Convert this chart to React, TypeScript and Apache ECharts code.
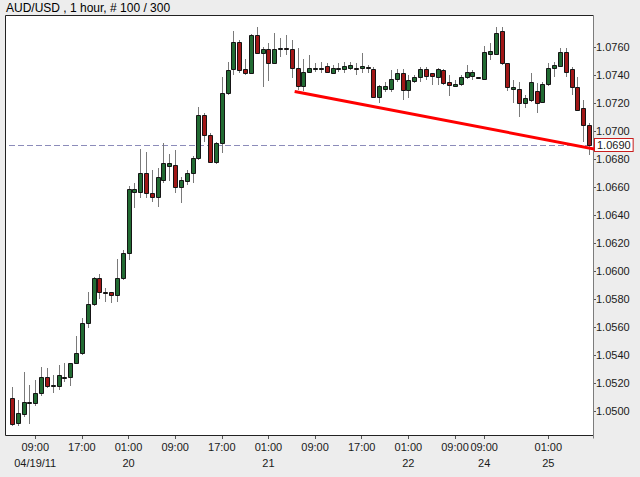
import React, { useEffect, useRef } from "react";
import * as echarts from "echarts";

// ---- data (AUD/USD, 1 hour bars) ----
const openP = [
  1.05095, 1.04912, 1.04979, 1.05061, 1.05059, 1.05131, 1.05245, 1.05179, 1.05179, 1.05238,
  1.05245, 1.05345, 1.05416, 1.05626, 1.05764, 1.05948, 1.05852, 1.05852, 1.05829, 1.05948,
  1.06126, 1.06567, 1.06567, 1.06698, 1.06555, 1.06526, 1.0665, 1.06752, 1.06757, 1.06602,
  1.06645, 1.06702, 1.06805, 1.07114, 1.06971, 1.06781, 1.06917, 1.07274, 1.07441, 1.07638,
  1.07441, 1.07416, 1.07686, 1.07559, 1.07584, 1.07488, 1.07591, 1.07595, 1.07584, 1.07448,
  1.07321, 1.07424, 1.07443, 1.07441, 1.07464, 1.07416, 1.07441, 1.07441, 1.07448, 1.07452,
  1.07448, 1.07459, 1.07441, 1.07245, 1.07298, 1.07298, 1.07369, 1.07416, 1.07293, 1.07359,
  1.07384, 1.07441, 1.07416, 1.07388, 1.07436, 1.07352, 1.07324, 1.07336, 1.07388, 1.07393,
  1.07388, 1.07369, 1.07548, 1.0755, 1.07716, 1.07484, 1.073, 1.07298, 1.07202, 1.07221,
  1.07288, 1.07209, 1.07336, 1.07448, 1.07464, 1.07566, 1.07441, 1.07316, 1.07162, 1.07043,
];
const highP = [
  1.05174, 1.05079, 1.05281, 1.05186, 1.05221, 1.05312, 1.05305, 1.05257, 1.05329, 1.05345,
  1.05345, 1.05536, 1.05662, 1.05852, 1.05955, 1.05979, 1.05876, 1.05852, 1.06084, 1.0615,
  1.06607, 1.06626, 1.06869, 1.06852, 1.06721, 1.06734, 1.06912, 1.06836, 1.06864, 1.06674,
  1.06721, 1.06821, 1.07169, 1.07129, 1.06984, 1.06924, 1.07388, 1.07495, 1.07716, 1.0765,
  1.07512, 1.07693, 1.07745, 1.076, 1.07631, 1.07698, 1.07662, 1.07686, 1.0765, 1.07591,
  1.07512, 1.07543, 1.07488, 1.07495, 1.07488, 1.07471, 1.07488, 1.07495, 1.07495, 1.07488,
  1.07555, 1.07471, 1.07459, 1.07329, 1.07352, 1.07436, 1.07441, 1.07441, 1.074, 1.074,
  1.07459, 1.07459, 1.07416, 1.07448, 1.07441, 1.074, 1.07364, 1.074, 1.07471, 1.07436,
  1.07388, 1.07607, 1.07631, 1.07745, 1.07745, 1.07488, 1.07364, 1.07352, 1.07257, 1.07416,
  1.07341, 1.07352, 1.07488, 1.07495, 1.07591, 1.07591, 1.07459, 1.07388, 1.07221, 1.07055,
];
const lowP = [
  1.04893, 1.04893, 1.04959, 1.04907, 1.05036, 1.05107, 1.05162, 1.05126, 1.0515, 1.05209,
  1.05179, 1.05341, 1.054, 1.05591, 1.0575, 1.05798, 1.05781, 1.05774, 1.05781, 1.05936,
  1.06079, 1.06448, 1.06519, 1.06519, 1.06495, 1.06459, 1.06626, 1.06645, 1.06555, 1.06483,
  1.06614, 1.06631, 1.06793, 1.06924, 1.06774, 1.06764, 1.06845, 1.07257, 1.074, 1.07412,
  1.074, 1.07412, 1.07555, 1.07316, 1.07359, 1.07484, 1.07531, 1.07543, 1.07376, 1.07293,
  1.07288, 1.07412, 1.07424, 1.07412, 1.07412, 1.07412, 1.07424, 1.07412, 1.07436, 1.074,
  1.07412, 1.07412, 1.07234, 1.07198, 1.07281, 1.07281, 1.07352, 1.07221, 1.07234, 1.07341,
  1.07352, 1.07364, 1.07329, 1.07329, 1.07329, 1.0725, 1.07316, 1.07321, 1.07369, 1.07364,
  1.07384, 1.07364, 1.07507, 1.07543, 1.07471, 1.07288, 1.07198, 1.07102, 1.07162, 1.07209,
  1.07131, 1.07198, 1.07321, 1.07388, 1.07459, 1.07388, 1.07257, 1.07145, 1.06924, 1.06829,
];
const closeP = [
  1.04907, 1.04984, 1.05067, 1.05067, 1.05131, 1.05245, 1.05179, 1.05186, 1.05257, 1.05245,
  1.05341, 1.05416, 1.05631, 1.05764, 1.05948, 1.05852, 1.05845, 1.05829, 1.05948, 1.06129,
  1.06584, 1.06584, 1.06698, 1.06555, 1.06526, 1.06669, 1.06769, 1.06769, 1.06602, 1.0665,
  1.06702, 1.06805, 1.07114, 1.06971, 1.06781, 1.06917, 1.07274, 1.07436, 1.07638, 1.07436,
  1.07416, 1.07686, 1.07559, 1.07584, 1.07488, 1.07584, 1.07595, 1.07591, 1.07448, 1.07321,
  1.07424, 1.07452, 1.07448, 1.07452, 1.07424, 1.07452, 1.07448, 1.07464, 1.07471, 1.07448,
  1.07464, 1.07448, 1.07245, 1.07321, 1.07321, 1.07369, 1.07416, 1.07293, 1.07364, 1.07388,
  1.07441, 1.07391, 1.07393, 1.07441, 1.07345, 1.07329, 1.07336, 1.07388, 1.07424, 1.07424,
  1.07384, 1.07566, 1.07571, 1.07702, 1.07484, 1.07316, 1.07316, 1.07198, 1.07234, 1.07352,
  1.07202, 1.07336, 1.07448, 1.07471, 1.07566, 1.07424, 1.07316, 1.0715, 1.07043, 1.069,
];

// bar timestamps: 04/19 05:00 .. 04/22 13:00, then 04/24 14:00 .. 04/25 08:00
const sessions = [
  { day: 19, hour: 5, bars: 81 },
  { day: 24, hour: 14, bars: 19 },
];
const categories: string[] = [];
sessions.forEach((s) => {
  let d = s.day;
  let h = s.hour;
  for (let k = 0; k < s.bars; k++) {
    categories.push(`04/${d} ${String(h).padStart(2, "0")}:00`);
    h += 1;
    if (h === 24) {
      h = 0;
      d += 1;
    }
  }
});

const tickIndex = [4, 12, 20, 28, 36, 44, 52, 60, 68, 76, 81, 92];
const tickTime = ["09:00", "17:00", "01:00", "09:00", "17:00", "01:00", "09:00", "17:00", "01:00", "09:00", "09:00", "01:00"];
const tickDate = ["04/19/11", "", "20", "", "", "21", "", "", "22", "", "24", "25"];
const yMin = 1.05;
const yMax = 1.076;
const yStep = 0.002;
const lastPrice = 1.069;
const trendLine = [
  [48.5, 1.07282],
  [102.6, 1.0685],
];
const title = "AUD/USD , 1 hour, # 100 / 300";

const FONT = "'Liberation Sans', Arial, sans-serif";
const GREEN = "#226b33";
const RED = "#a11717";

export default function App() {
  const ref = useRef<HTMLDivElement>(null);
  useEffect(() => {
    if (!ref.current) return;
    const chart = echarts.init(ref.current, null, { renderer: "svg" });
    const rows = categories.map((_, i) => [i, openP[i], closeP[i], lowP[i], highP[i]]);
    const L = 5.5, T = 15.5, R = 593.5, B = 435.5;
    chart.setOption({
      animation: false,
      backgroundColor: "#ededed",
      title: {
        text: title,
        left: 6,
        top: 2,
        padding: 0,
        textStyle: { fontSize: 12, fontWeight: "normal", fontFamily: FONT, color: "#000" },
      },
      graphic: [
        {
          type: "rect",
          z: 0,
          silent: true,
          shape: { x: L, y: T, width: R - L, height: B - T },
          style: { fill: "#ffffff", stroke: null },
        },
        {
          type: "polyline",
          z: 1,
          silent: true,
          shape: { points: [[R, B], [L, B], [L, T], [R, T]] },
          style: { stroke: "#222", lineWidth: 1, fill: null },
        },
        {
          type: "line",
          z: 1,
          silent: true,
          shape: { x1: R, y1: T, x2: R, y2: B + 3 },
          style: { stroke: "#7c7c7c", lineWidth: 1 },
        },
      ],
      grid: [
        // time axis grid (frame-aligned)
        { left: 9, right: 48, top: 15.5, bottom: 41, show: false },
        // price grid: top = 1.0760, bottom = 1.0500
        { left: 9, right: 48, top: 47, bottom: 65.9, show: false },
      ],
      xAxis: [
        {
          gridIndex: 0,
          type: "category",
          data: categories,
          boundaryGap: true,
          axisLine: { show: false, onZero: false },
          axisTick: {
            show: true,
            alignWithLabel: true,
            interval: (idx: number) => tickIndex.includes(idx),
            length: 3,
            lineStyle: { color: "#555" },
          },
          axisLabel: {
            interval: (idx: number) => tickIndex.includes(idx),
            formatter: (_v: string, idx: number) => {
              const k = tickIndex.indexOf(idx);
              if (k < 0) return "";
              return tickTime[k] + "\n" + (tickDate[k] || " ");
            },
            fontSize: 11,
            lineHeight: 16,
            margin: 3,
            color: "#1a1a1a",
            fontFamily: FONT,
          },
          splitLine: { show: false },
        },
        {
          gridIndex: 1,
          type: "category",
          data: categories,
          boundaryGap: true,
          show: false,
        },
        {
          gridIndex: 1,
          type: "value",
          min: -0.5,
          max: 99.5,
          show: false,
          axisLine: { onZero: false },
          splitLine: { show: false },
        },
      ],
      yAxis: [
        { gridIndex: 0, type: "value", min: 0, max: 1, show: false, axisLine: { onZero: false }, splitLine: { show: false } },
        {
          gridIndex: 1,
          type: "value",
          position: "right",
          min: yMin,
          max: yMax,
          interval: yStep,
          offset: 1,
          axisLine: { show: false, onZero: false },
          splitLine: { show: false },
          axisTick: { show: true, length: 3, lineStyle: { color: "#555" } },
          axisLabel: {
            formatter: (v: number) => v.toFixed(4),
            fontSize: 11,
            margin: 3,
            color: "#1a1a1a",
            fontFamily: FONT,
          },
        },
      ],
      series: [
        {
          type: "custom",
          xAxisIndex: 1,
          yAxisIndex: 1,
          data: rows,
          clip: false,
          encode: { x: 0, y: [1, 2, 3, 4] },
          z: 2,
          renderItem: (_params: any, api: any) => {
            const i = api.value(0);
            const o = api.value(1);
            const c = api.value(2);
            const lo = api.value(3);
            const hi = api.value(4);
            const po = api.coord([i, o]);
            const pc = api.coord([i, c]);
            const pl = api.coord([i, lo]);
            const ph = api.coord([i, hi]);
            const x = Math.round(po[0]);
            const top = Math.round(Math.min(po[1], pc[1]));
            const bot = Math.round(Math.max(po[1], pc[1]));
            const up = c >= o;
            return {
              type: "group",
              children: [
                {
                  type: "line",
                  shape: { x1: x + 0.5, y1: Math.round(ph[1]), x2: x + 0.5, y2: Math.round(pl[1]) },
                  style: { stroke: "#7a7a7a", lineWidth: 1 },
                },
                {
                  type: "rect",
                  shape: { x: x - 1.5, y: top + 0.5, width: 4, height: Math.max(1, bot - top) },
                  style: { fill: up ? GREEN : RED, stroke: "#151515", lineWidth: 1 },
                },
              ],
            };
          },
          markLine: {
            silent: true,
            symbol: "none",
            precision: 4,
            animation: false,
            z: 1,
            lineStyle: { color: "#8c8cba", type: [6, 3], width: 1 },
            label: {
              show: true,
              position: "end",
              distance: 3,
              formatter: () => lastPrice.toFixed(4),
              fontSize: 11,
              fontFamily: FONT,
              color: "#1a1a1a",
              backgroundColor: "#ffffff",
              borderColor: "#c81e1e",
              borderWidth: 1,
              padding: [1, 2, 0, 2],
            },
            data: [{ yAxis: lastPrice }],
          },
        },
        {
          type: "line",
          xAxisIndex: 2,
          yAxisIndex: 1,
          data: trendLine,
          clip: false,
          symbol: "none",
          silent: true,
          z: 6,
          lineStyle: { color: "#ff0000", width: 3 },
        },
      ],
    });
    return () => chart.dispose();
  }, []);
  return <div ref={ref} style={{ position: "fixed", left: 0, top: 0, width: 640, height: 477 }} />;
}
